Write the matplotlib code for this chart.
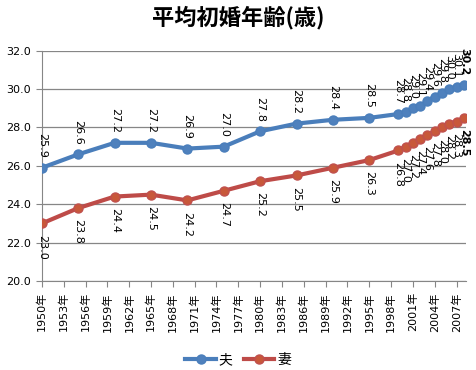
import matplotlib
matplotlib.use("Agg")
import matplotlib.pyplot as plt

plt.rcParams["font.family"] = ["DejaVu Sans", "Noto Sans CJK JP"]

years = [1950, 1955, 1960, 1965, 1970, 1975, 1980, 1985, 1990, 1995,
         1999, 2000, 2001, 2002, 2003, 2004, 2005, 2006, 2007, 2008]
husband = [25.9, 26.6, 27.2, 27.2, 26.9, 27.0, 27.8, 28.2, 28.4, 28.5,
           28.7, 28.8, 29.0, 29.1, 29.4, 29.6, 29.8, 30.0, 30.1, 30.2]
wife = [23.0, 23.8, 24.4, 24.5, 24.2, 24.7, 25.2, 25.5, 25.9, 26.3,
        26.8, 27.0, 27.2, 27.4, 27.6, 27.8, 28.0, 28.2, 28.3, 28.5]
tick_years = list(range(1950, 2008, 3))
tick_labels = [f"{y}年" for y in tick_years]

blue = "#4A7EBB"
red = "#BE4B48"

fig = plt.figure(figsize=(4.76, 3.70), dpi=100)
ax = fig.add_axes([0.088, 0.2405, 0.891, 0.6225])

ax.plot(years, husband, color=blue, lw=3, marker="o", ms=6.5,
        mfc="#4F81BD", mec="#4A7EBB", label="夫", zorder=3)
ax.plot(years, wife, color=red, lw=3, marker="o", ms=6.5,
        mfc="#C8583A", mec="#C0504D", label="妻", zorder=3)

n = len(years)
for i, (x, h, w) in enumerate(zip(years, husband, wife)):
    wt = "bold" if i == n - 1 else "normal"
    ax.annotate(f"{h:.1f}", (x, h), xytext=(0, 7), textcoords="offset points",
                rotation=-90, ha="center", va="bottom", fontsize=8, fontweight=wt)
    ax.annotate(f"{w:.1f}", (x, w), xytext=(0, -8), textcoords="offset points",
                rotation=-90, ha="center", va="top", fontsize=8, fontweight=wt)

ax.set_ylim(20, 32)
ax.set_yticks([20, 22, 24, 26, 28, 30, 32])
ax.set_yticklabels([f"{v:.1f}" for v in [20, 22, 24, 26, 28, 30, 32]], fontsize=8)
ax.set_xlim(1950, 2008.3)
ax.set_xticks(tick_years)
ax.set_xticklabels(tick_labels, rotation=90, fontsize=8)

ax.grid(axis="y", color="#868686", lw=0.9)
ax.set_axisbelow(True)
for s in ["top", "right"]:
    ax.spines[s].set_visible(False)
for s in ["left", "bottom"]:
    ax.spines[s].set_color("#868686")
ax.tick_params(axis="both", direction="out", length=4, color="#868686", pad=4)

fig.suptitle("平均初婚年齢(歳)", fontsize=16, fontweight="bold", y=0.985,
             family=["Noto Sans CJK JP", "DejaVu Sans"])

fig.legend(loc="center", bbox_to_anchor=(0.5, 0.027), ncol=2, frameon=False,
           fontsize=10, handlelength=2.2, handletextpad=0.2, columnspacing=0.8,
           prop={"family": ["Noto Sans CJK JP"], "size": 10})

fig.savefig("out.png", dpi=100)
